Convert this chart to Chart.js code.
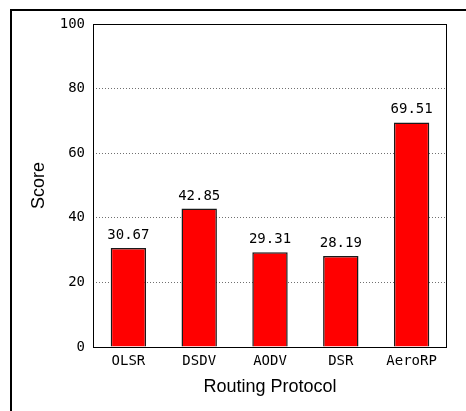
<!DOCTYPE html>
<html>
<head>
<meta charset="utf-8">
<script src="https://cdn.jsdelivr.net/npm/chart.js@4/dist/chart.umd.min.js"></script>
<style>
  html, body { margin: 0; padding: 0; background: #ffffff; }
  #wrap { width: 466px; height: 411px; }
</style>
</head>
<body>
<div id="wrap"><canvas id="chart" width="466" height="411"></canvas></div>
<script>
// Routing protocol scores
const protocols = ['OLSR', 'DSDV', 'AODV', 'DSR', 'AeroRP'];
const scores = [30.67, 42.85, 29.31, 28.19, 69.51];
const yTicks = [0, 20, 40, 60, 80, 100];

const MONO = '"DejaVu Sans Mono", monospace';
const SANS = '"Liberation Sans", Arial, sans-serif';

// Outer frame around the whole figure plus a solid box around the plot area
const framePlugin = {
  id: 'frames',
  beforeDraw(chart) {
    const ctx = chart.ctx;
    ctx.save();
    ctx.fillStyle = '#ffffff';
    ctx.fillRect(0, 0, chart.width, chart.height);
    ctx.strokeStyle = '#000000';
    ctx.lineWidth = 2;
    ctx.strokeRect(11, 10, chart.width + 20, chart.height + 20);
    ctx.restore();
  },
  afterDatasetsDraw(chart) {
    const a = chart.chartArea;
    const ctx = chart.ctx;
    ctx.save();
    ctx.strokeStyle = '#000000';
    ctx.lineWidth = 1;
    ctx.strokeRect(Math.round(a.left) + 0.5, Math.round(a.top) + 0.5,
                   Math.round(a.right - a.left) - 1, Math.round(a.bottom - a.top));
    ctx.restore();
  }
};

// Value printed above each bar
const valueLabels = {
  id: 'valueLabels',
  afterDatasetsDraw(chart) {
    const ctx = chart.ctx;
    const meta = chart.getDatasetMeta(0);
    const data = chart.data.datasets[0].data;
    ctx.save();
    ctx.font = '14px ' + MONO;
    ctx.fillStyle = '#000000';
    ctx.textAlign = 'center';
    ctx.textBaseline = 'alphabetic';
    meta.data.forEach((bar, i) => {
      ctx.fillText(data[i].toFixed(2), bar.x, bar.y - 9);
    });
    ctx.restore();
  }
};

new Chart(document.getElementById('chart'), {
  type: 'bar',
  data: {
    labels: protocols,
    datasets: [{
      data: scores,
      backgroundColor: '#ff0000',
      borderColor: '#1a1a1a',
      borderWidth: 1.5,
      barPercentage: 0.5,
      categoryPercentage: 1.0
    }]
  },
  options: {
    responsive: false,
    animation: false,
    devicePixelRatio: 1,
    layout: { padding: { left: 0, top: 24, right: 19, bottom: 0 } },
    plugins: {
      legend: { display: false },
      tooltip: { enabled: false }
    },
    scales: {
      x: {
        afterFit(scale) { scale.height = 64; },
        grid: { display: false, drawTicks: false },
        border: { display: false },
        ticks: {
          padding: 6,
          color: '#000000',
          font: { family: MONO, size: 14 },
          maxRotation: 0
        },
        title: {
          display: true,
          text: 'Routing Protocol',
          color: '#000000',
          font: { family: SANS, size: 18 },
          padding: { top: 0, bottom: 13 }
        }
      },
      y: {
        min: 0,
        max: 100,
        afterFit(scale) { scale.width = 93; },
        afterBuildTicks(scale) { scale.ticks = yTicks.map(v => ({ value: v })); },
        grid: {
          drawTicks: false,
          lineWidth: 1,
          color: (c) => (c.tick && (c.tick.value === 0 || c.tick.value === 100)) ? 'rgba(0,0,0,0)' : '#707070'
        },
        border: { display: false, dash: [1, 2] },
        ticks: {
          padding: 8,
          color: '#000000',
          font: { family: MONO, size: 14 }
        },
        title: {
          display: true,
          text: 'Score',
          color: '#000000',
          font: { family: SANS, size: 18 },
          padding: { top: 28, bottom: 0 }
        }
      }
    }
  },
  plugins: [framePlugin, valueLabels]
});
</script>
</body>
</html>
